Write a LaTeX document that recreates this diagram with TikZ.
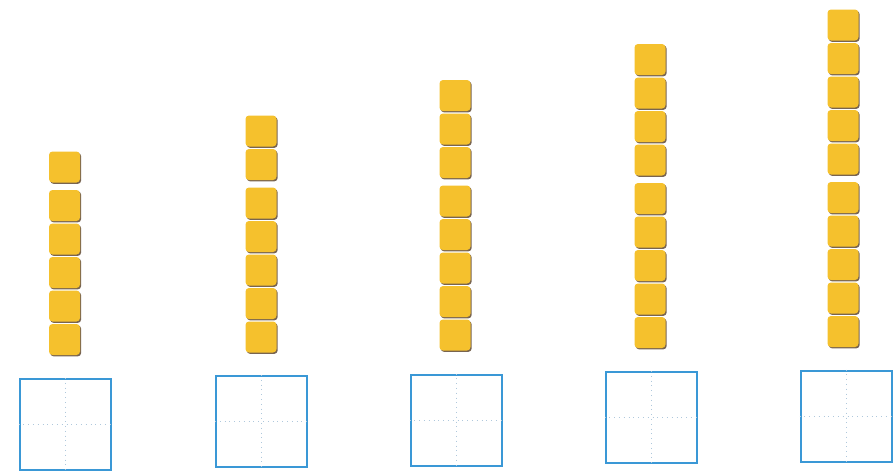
\documentclass[tikz,border=0pt]{standalone}
\usetikzlibrary{shadows}
\definecolor{cubeyellow}{RGB}{245,193,45}
\definecolor{cubeshadow}{RGB}{120,100,80}
\definecolor{boxblue}{RGB}{58,152,214}
\definecolor{guide}{RGB}{175,200,220}
\tikzset{
  cube/.style={rectangle, minimum width=31pt, minimum height=31pt, inner sep=0pt,
    fill=cubeyellow, rounded corners=3.5pt,
    general shadow={shadow xshift=1.2pt, shadow yshift=-1.4pt, fill=cubeshadow}},
  answerbox/.style={rectangle, draw=boxblue, line width=2pt, minimum width=91pt,
    minimum height=91pt, inner sep=0pt},
  guideline/.style={draw=guide, line width=0.8pt, dash pattern=on 0.8pt off 4pt}
}
\begin{document}
\begin{tikzpicture}[x=1pt,y=-1pt]
\useasboundingbox (0,0) rectangle (896,472);
\fill[white] (0,0) rectangle (896,472);
% columns: index/x centre/bottom cube y/number of cubes above the group of five
\foreach \i/\cx/\by/\extra in {1/64.5/339.5/1, 2/261/337/2, 3/455/335/3, 4/650/332.5/4, 5/843/331.5/5}{
  \foreach \k in {1,...,5}{
    \node[cube] (c-\i-\k) at (\cx, {\by-(\k-1)*33.5}) {};
  }
  \foreach \k in {1,...,\extra}{
    \node[cube] (t-\i-\k) at (\cx, {\by-4*33.5-5-\k*33.5}) {};
  }
}
% answer boxes
\foreach \i/\bx/\bY in {1/65/424.5, 2/261.5/421.5, 3/456/420, 4/651/417.5, 5/846/416}{
  \node[answerbox] (b-\i) at (\bx,\bY) {};
  \draw[guideline] (b-\i.north) -- (b-\i.south);
  \draw[guideline] (b-\i.west) -- (b-\i.east);
}
\end{tikzpicture}
\end{document}
